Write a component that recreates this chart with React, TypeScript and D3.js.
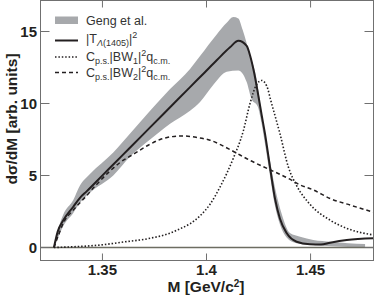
import * as d3 from 'd3';

// M [GeV/c^2] vs dσ/dM
const bandUpperM = [1.3267, 1.329, 1.3312, 1.336, 1.3392, 1.344, 1.3552, 1.3632, 1.3729, 1.3825, 1.3921, 1.3969, 1.4049, 1.4097, 1.4129, 1.4153, 1.4174, 1.4206, 1.4238, 1.427, 1.43, 1.433, 1.436, 1.4401, 1.445, 1.4513, 1.46, 1.468, 1.4762];
const bandUpperV = [0, 1.4, 2.3, 3.3, 4.3, 5.1, 6.6, 7.9, 9.5, 11.0, 12.4, 13.3, 14.8, 15.6, 16.0, 15.9, 15.1, 13.5, 11.9, 8.8, 6.4, 4.1, 2.4, 1.0, 0.75, 0.52, 0.4, 0.3, 0.24];
const bandLowerM = [1.3267, 1.329, 1.3312, 1.336, 1.3392, 1.344, 1.3552, 1.3632, 1.3729, 1.3825, 1.3921, 1.3969, 1.4033, 1.4097, 1.4153, 1.4193, 1.4217, 1.4246, 1.4265, 1.4281, 1.4305, 1.4329, 1.4353, 1.4385, 1.4433, 1.4513, 1.46, 1.4762];
const bandLowerV = [0, 0.8, 1.5, 2.4, 3.1, 3.8, 5.0, 6.3, 7.5, 8.6, 9.5, 10.1, 11.3, 12.2, 12.3, 11.5, 10.3, 9.8, 8.6, 7.2, 5.0, 2.9, 1.6, 0.7, 0.3, 0.17, 0.08, 0.0];

const tM = [1.3267, 1.3285, 1.3312, 1.336, 1.3392, 1.3424, 1.347, 1.3512, 1.3552, 1.3632, 1.3729, 1.3825, 1.3921, 1.399, 1.4049, 1.4113, 1.4153, 1.4193, 1.421, 1.4228, 1.4246, 1.4265, 1.4281, 1.4305, 1.4329, 1.4353, 1.4385, 1.4433, 1.4497, 1.455, 1.4594, 1.4674, 1.4802];
const tV = [0, 1.1, 1.9, 2.83, 3.45, 3.9, 4.57, 5.18, 5.76, 6.93, 8.34, 9.74, 11.14, 12.14, 13.0, 13.9, 14.35, 14.0, 13.3, 12.2, 10.8, 9.2, 7.9, 5.6, 3.4, 2.0, 1.0, 0.4, 0.22, 0.2, 0.33, 0.52, 0.64];

const bw1M = [1.3267, 1.34, 1.3488, 1.36, 1.3729, 1.3825, 1.3873, 1.3921, 1.3969, 1.4017, 1.4065, 1.4129, 1.4177, 1.4209, 1.424, 1.4265, 1.429, 1.4309, 1.4353, 1.4393, 1.4433, 1.4497, 1.4594, 1.4674, 1.4802];
const bw1V = [0, 0.08, 0.17, 0.38, 0.64, 1.0, 1.3, 1.65, 2.2, 3.0, 4.2, 6.2, 8.1, 10.0, 11.3, 11.6, 11.2, 10.2, 7.9, 5.6, 4.3, 3.0, 1.9, 1.33, 0.87];

const bw2M = [1.3267, 1.329, 1.3312, 1.336, 1.3424, 1.347, 1.3528, 1.358, 1.3657, 1.372, 1.3777, 1.3835, 1.3889, 1.395, 1.4017, 1.4113, 1.4209, 1.4305, 1.4393, 1.4449, 1.4513, 1.4594, 1.469, 1.4802];
const bw2V = [0, 0.9, 1.7, 2.6, 3.6, 4.35, 5.2, 5.85, 6.55, 7.1, 7.5, 7.7, 7.75, 7.65, 7.45, 6.8, 6.05, 5.4, 4.8, 4.35, 4.0, 3.4, 2.95, 2.45];

const xTicks = [1.35, 1.4, 1.45];
const xTickLabels = ['1.35', '1.4', '1.45'];
const yTicks = [0, 5, 10, 15];

const W = 374;
const H = 299;
const left = 40.5, right = 373.5, top = 0.5, bottom = 260.5;
const INK = '#231f20';
const AXIS = '#707070';
const FONT = '"Liberation Sans", Arial, sans-serif';

export default function App() {
  const x = d3.scaleLinear().domain([1.32, 1.48]).range([40, 373]);
  const y = d3.scaleLinear().domain([0, 15]).range([247.5, 31.5]);

  const line = d3.line<[number, number]>()
    .x((d) => x(d[0]))
    .y((d) => y(d[1]))
    .curve(d3.curveMonotoneX);

  const zip = (ms: number[], vs: number[]) => ms.map((m, i) => [m, vs[i]] as [number, number]);

  // band: upper edge forward, lower edge back
  const upperPath = line(zip(bandUpperM, bandUpperV)) || '';
  const lowerPath = line(zip(bandLowerM, bandLowerV).reverse()) || '';
  const bandPath = upperPath + 'L' + lowerPath.slice(1) + 'Z';

  const tick = 7;

  return (
    <svg width={W} height={H} style={{ position: 'absolute', left: 0, top: 0, background: '#fff' }}>
      <path d={bandPath} fill="#a7a9ac" stroke="none" />

      <line x1={left} x2={right} y1={y(0)} y2={y(0)} stroke="#6d6d62" strokeWidth={1.5} />

      <path d={line(zip(bw2M, bw2V)) || ''} fill="none" stroke={INK} strokeWidth={1.5} strokeDasharray="4,3" />
      <path d={line(zip(bw1M, bw1V)) || ''} fill="none" stroke={INK} strokeWidth={1.6} strokeDasharray="1.5,1.9" />
      <path d={line(zip(tM, tV)) || ''} fill="none" stroke={INK} strokeWidth={2} />

      {/* frame */}
      <rect x={left} y={top} width={right - left} height={bottom - top} fill="none" stroke={AXIS} strokeWidth={1} />

      {xTicks.map((t, i) => (
        <g key={'x' + t}>
          <line x1={x(t)} x2={x(t)} y1={bottom} y2={bottom - tick} stroke={AXIS} />
          <line x1={x(t)} x2={x(t)} y1={top} y2={top + tick} stroke={AXIS} />
          <text x={x(t)} y={275} textAnchor="middle" fontFamily={FONT} fontWeight="bold" fontSize={15} fill={INK}>
            {xTickLabels[i]}
          </text>
        </g>
      ))}
      {yTicks.map((t) => (
        <g key={'y' + t}>
          <line x1={left} x2={left + 9} y1={y(t)} y2={y(t)} stroke={AXIS} />
          <line x1={right} x2={right - 9} y1={y(t)} y2={y(t)} stroke={AXIS} />
          <text x={37} y={y(t)} dy="0.36em" textAnchor="end" fontFamily={FONT} fontWeight="bold" fontSize={15} fill={INK}>
            {t}
          </text>
        </g>
      ))}

      <text x={206} y={292} textAnchor="middle" fontFamily={FONT} fontWeight="bold" fontSize={15.5} fill={INK}>
        M [GeV/c<tspan dy={-5} fontSize={10}>2</tspan><tspan dy={5}>]</tspan>
      </text>
      <text transform="translate(17,119) rotate(-90)" textAnchor="middle" fontFamily={FONT} fontWeight="bold" fontSize={15.5} fill={INK}>
        dσ/dM [arb. units]
      </text>

      {/* legend */}
      <g fontFamily={FONT} fontSize={12.5} fill="#333">
        <rect x={55} y={16.5} width={23} height={7.5} fill="#a7a9ac" />
        <text x={86} y={25}>Geng et al.</text>

        <line x1={55} x2={78} y1={40.5} y2={40.5} stroke={INK} strokeWidth={2} />
        <text x={86} y={43}>
          |T<tspan dy={3} fontSize={9}><tspan fontStyle="italic">Λ</tspan>(1405)</tspan>
          <tspan dy={-3}>|</tspan><tspan dy={-5} fontSize={9}>2</tspan>
        </text>

        <line x1={55} x2={78} y1={57} y2={57} stroke={INK} strokeWidth={1.6} strokeDasharray="1.5,1.9" />
        <text x={86} y={61}>
          C<tspan dy={3} fontSize={9}>p.s.</tspan>
          <tspan dy={-3}>|BW</tspan><tspan dy={3} fontSize={9}>1</tspan>
          <tspan dy={-3}>|</tspan><tspan dy={-5} fontSize={9}>2</tspan>
          <tspan dy={5}>q</tspan><tspan dy={3} fontSize={9}>c.m.</tspan>
        </text>

        <line x1={55} x2={78} y1={72.5} y2={72.5} stroke={INK} strokeWidth={1.5} strokeDasharray="4,3" />
        <text x={86} y={77}>
          C<tspan dy={3} fontSize={9}>p.s.</tspan>
          <tspan dy={-3}>|BW</tspan><tspan dy={3} fontSize={9}>2</tspan>
          <tspan dy={-3}>|</tspan><tspan dy={-5} fontSize={9}>2</tspan>
          <tspan dy={5}>q</tspan><tspan dy={3} fontSize={9}>c.m.</tspan>
        </text>
      </g>
    </svg>
  );
}
